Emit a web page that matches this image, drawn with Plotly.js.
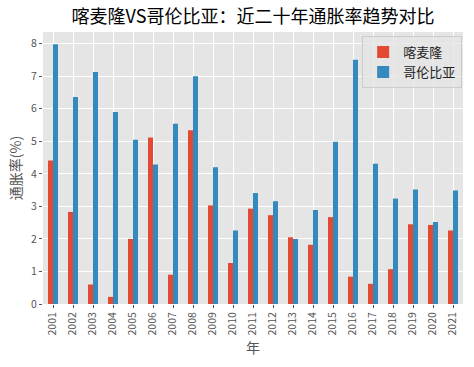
<!DOCTYPE html>
<html>
<head>
<meta charset="utf-8">
<script src="https://cdn.plot.ly/plotly-3.0.1.min.js"></script>
<style>html,body{margin:0;padding:0;background:#fff;}#chart{width:474px;height:367px;}</style>
</head>
<body>
<div id="chart"></div>
<script>
const years = ["2001","2002","2003","2004","2005","2006","2007","2008","2009","2010","2011","2012","2013","2014","2015","2016","2017","2018","2019","2020","2021"];
const cameroon = [4.41,2.83,0.60,0.22,2.00,5.12,0.90,5.34,3.03,1.26,2.93,2.73,2.05,1.82,2.67,0.84,0.62,1.07,2.45,2.43,2.26];
const colombia = [7.98,6.36,7.13,5.90,5.05,4.29,5.54,7.00,4.20,2.26,3.41,3.16,2.00,2.89,4.99,7.51,4.31,3.24,3.52,2.52,3.49];
const seriesNames = ["喀麦隆","哥伦比亚"];
const font = '"Noto Sans CJK SC", "DejaVu Sans", sans-serif';
const data = [
  {type:'bar', x:years, y:cameroon, name:seriesNames[0], marker:{color:'#E24A33'}},
  {type:'bar', x:years, y:colombia, name:seriesNames[1], marker:{color:'#348ABD'}}
];
const layout = {
  width:474, height:367,
  margin:{l:43, r:11, t:32, b:63},
  paper_bgcolor:'#ffffff', plot_bgcolor:'#E5E5E5',
  font:{family:font, color:'#555555', size:10},
  title:{text:'喀麦隆VS哥伦比亚：近二十年通胀率趋势对比', font:{family:font, size:18, color:'#000000', weight:400}, xref:'paper', x:0.5, xanchor:'center', y:0.972, yanchor:'top'},
  barmode:'group', bargap:0.5, bargroupgap:0,
  xaxis:{type:'category', tickangle:-90, showgrid:true, gridcolor:'#ffffff', gridwidth:1, ticks:'outside', ticklen:3, tickcolor:'#555555',
         tickfont:{size:10.5, color:'#555555'}, title:{text:'年', font:{size:14, color:'#555555'}, standoff:8}, zeroline:false, showline:false, range:[-0.5,20.5]},
  yaxis:{range:[0,8.36], dtick:1, tick0:0, showgrid:true, gridcolor:'#ffffff', gridwidth:1, ticks:'outside', ticklen:3, tickcolor:'#555555',
         tickfont:{size:10.5, color:'#555555'}, title:{text:'通胀率(%)', font:{size:14, color:'#555555'}, standoff:6}, zeroline:false, showline:false},
  legend:{x:0.998, xanchor:'right', y:0.985, yanchor:'top', bgcolor:'rgba(229,229,229,0.8)', bordercolor:'#cccccc', borderwidth:1,
          font:{size:13, color:'#222222'}},
  showlegend:true
};
Plotly.newPlot('chart', data, layout, {displayModeBar:false, staticPlot:true});
</script>
</body>
</html>
